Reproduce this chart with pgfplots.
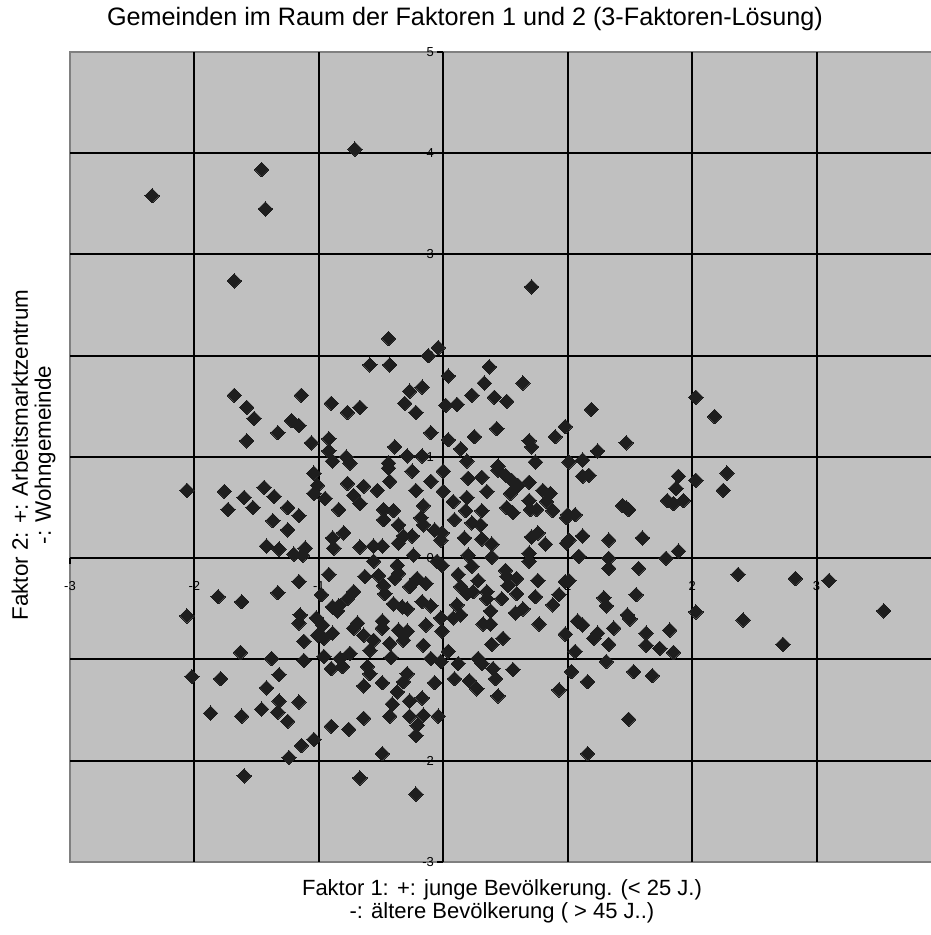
\documentclass[border=0pt]{standalone}
\usepackage{pgfplots}
\pgfplotsset{compat=1.18}
\usepackage{fontspec}
\setmainfont{Liberation Sans}
\definecolor{plotbg}{HTML}{C0C0C0}
\definecolor{framegray}{HTML}{808080}
\definecolor{dot}{HTML}{1E1E1E}

\begin{document}
\begin{tikzpicture}
% page = 930 x 935 px at 0.5pt per px
\path[use as bounding box] (0pt,0pt) rectangle (465pt,-467.5pt);
\node[font=\fontsize{12.6}{14}\selectfont] at (232.5pt,-9.5pt)
  {Gemeinden im Raum der Faktoren 1 und 2 (3-Faktoren-Lösung)};
\begin{axis}[
  at={(35pt,-26pt)}, anchor=north west,
  width=435.5pt, height=405pt, scale only axis,
  xmin=-3, xmax=4, ymin=-3, ymax=5,
  axis lines=middle,
  axis line style={-, black, line width=1pt},
  axis background/.style={fill=plotbg, draw=framegray, line width=1pt},
  grid=major,
  major grid style={black, line width=1pt},
  xtick={-2,-1,1,2,3},
  ytick={-2,-1,0,1,2,3,4},
  extra x ticks={-3},
  extra y ticks={-3,5},
  extra tick style={grid=none},
  hide obscured y ticks=false,
  tick style={black, line width=0.6pt},
  tick align=outside,
  major tick length=3pt,
  /pgf/number format/assume math mode=true,
  ticklabel style={font=\fontsize{6.5}{7}\selectfont, inner sep=0pt},
  xticklabel style={anchor=center, yshift=-11pt},
  yticklabel style={anchor=east, xshift=-1.5pt},
]
\addplot[only marks, mark=square*, mark size=2.55pt,
  mark options={rotate=45, fill=dot, draw=dot, line width=0pt}] coordinates {
(-2.34,3.58) (-1.46,3.84) (-1.43,3.45) (-0.71,4.04) (-1.68,2.74) (-0.44,2.17)
(-0.04,2.08) (-0.12,2.00) (-0.59,1.91) (-0.43,1.91) (-1.68,1.61) (-1.58,1.49)
(-1.52,1.38) (-1.14,1.61) (-1.58,1.16) (-1.33,1.24) (-1.22,1.36) (-1.16,1.31)
(-1.06,1.14) (-0.90,1.53) (-0.77,1.44) (-0.67,1.49) (-0.92,1.18) (-0.92,1.06)
(-0.89,0.96) (-0.78,1.00) (-0.75,0.94) (-0.44,0.94) (-0.39,1.10) (-0.27,1.65)
(-0.17,1.69) (-0.31,1.53) (-0.22,1.44) (-0.10,1.24) (-0.29,1.01) (-0.17,1.01)
(0.02,1.51) (0.04,1.80) (0.04,1.17)
(0.71,2.68) (0.37,1.89) (0.33,1.73) (0.64,1.73) (0.23,1.61) (0.41,1.59)
(0.51,1.55) (0.11,1.52) (1.19,1.47) (2.03,1.59) (2.18,1.40) (0.98,1.30)
(0.90,1.20) (0.43,1.28) (0.25,1.20) (0.14,1.08) (0.69,1.16) (0.71,1.10)
(1.47,1.14) (1.24,1.06) (0.19,0.96) (0.44,0.91) (0.74,0.95) (1.01,0.95)
(1.12,0.97)
(-2.06,0.67) (-1.76,0.66) (-1.73,0.48) (-1.60,0.60) (-1.53,0.50) (-1.44,0.70)
(-1.36,0.61) (-1.25,0.50) (-1.16,0.42) (-1.37,0.37) (-1.25,0.28) (-1.42,0.12)
(-1.32,0.09) (-1.20,0.04) (-1.13,0.03) (-1.11,0.10) (-1.04,0.84) (-1.01,0.72)
(-1.04,0.64) (-0.95,0.59) (-0.77,0.74) (-0.64,0.71) (-0.72,0.62) (-0.67,0.54)
(-0.53,0.67) (-0.44,0.89) (-0.43,0.76) (-0.25,0.86) (-0.22,0.67) (-0.10,0.76)
(0.00,0.86) (0.00,0.66) (-0.84,0.48) (-0.48,0.48) (-0.40,0.47) (-0.48,0.38)
(-0.36,0.33) (-0.16,0.52) (-0.18,0.40) (-0.16,0.33) (-0.07,0.28) (-0.01,0.25)
(-0.02,0.18) (-0.89,0.20) (-0.80,0.25) (-0.88,0.10) (-0.67,0.11) (-0.56,0.12)
(-0.49,0.12) (-0.36,0.15) (-0.32,0.22) (-0.25,0.22) (-0.24,0.03) (-0.56,-0.03)
(-0.37,-0.07) (-0.36,-0.15) (-0.05,-0.03) (-0.01,-0.07) (-0.92,-0.16) (-1.16,-0.23)
(-1.33,-0.34) (-1.81,-0.38) (-1.62,-0.43) (-2.06,-0.57) (-0.98,-0.36) (-0.84,-0.47)
(-0.77,-0.40) (-0.72,-0.33) (-0.89,-0.48) (-0.85,-0.52) (-0.63,-0.18) (-0.52,-0.17)
(-0.48,-0.27) (-0.47,-0.35) (-0.39,-0.20) (-0.27,-0.28) (-0.21,-0.20) (-0.14,-0.25)
(-0.40,-0.45) (-0.33,-0.48) (-0.29,-0.50) (-0.17,-0.43) (-0.10,-0.47) (-1.15,-0.56)
(-1.16,-0.64) (-1.02,-0.59) (-0.97,-0.66) (-0.89,-0.74) (-1.01,-0.76) (-1.12,-0.82)
(-0.96,-0.79) (-0.69,-0.64) (-0.72,-0.69) (-0.64,-0.76) (-0.56,-0.81) (-0.59,-0.91)
(-0.49,-0.62) (-0.49,-0.69) (-0.36,-0.71) (-0.29,-0.72) (-0.32,-0.81) (-0.43,-0.84)
(-0.14,-0.66) (-0.01,-0.72) (-0.16,-0.86) (-0.02,-0.59) (-1.63,-0.93) (-1.38,-0.99)
(-1.12,-1.01) (-0.96,-0.97) (-0.83,-0.99) (-0.75,-0.94) (-0.42,-0.98) (-0.10,-0.99)
(-0.02,-1.02) (-0.90,-1.09) (-0.81,-1.07) (-0.61,-1.07) (-0.59,-1.14) (-2.02,-1.17)
(-1.79,-1.19) (-1.32,-1.15) (-1.42,-1.28) (-0.64,-1.26) (-0.49,-1.23) (-0.29,-1.14)
(-0.32,-1.22) (-0.07,-1.23) (-0.37,-1.32) (-0.41,-1.44) (-1.32,-1.41) (-1.16,-1.42)
(-1.46,-1.49) (-1.33,-1.52) (-1.25,-1.61) (-1.87,-1.53) (-1.62,-1.56) (-0.27,-1.41)
(-0.17,-1.38) (-0.64,-1.58) (-0.43,-1.56) (-0.27,-1.56) (-0.16,-1.55) (-0.04,-1.56)
(-0.21,-1.65) (-0.22,-1.75) (-0.90,-1.66) (-0.76,-1.69) (-1.04,-1.79) (-1.14,-1.85)
(-1.24,-1.97) (-0.49,-1.93) (-1.60,-2.15) (-0.67,-2.17) (-0.22,-2.33)
(0.20,0.79) (0.31,0.80) (0.44,0.87) (0.50,0.82) (0.55,0.77) (0.60,0.72)
(0.69,0.75) (0.54,0.64) (0.35,0.66) (0.19,0.60) (0.08,0.56) (0.80,0.67)
(0.86,0.64) (0.83,0.56) (0.69,0.57) (0.70,0.48) (0.75,0.48) (0.88,0.47)
(0.51,0.50) (0.56,0.45) (0.18,0.47) (0.31,0.47) (0.09,0.38) (0.23,0.35)
(0.30,0.33) (1.00,0.43) (1.06,0.43) (0.99,0.40) (1.12,0.81) (1.17,0.82)
(1.44,0.52) (1.49,0.48) (1.47,0.50) (1.89,0.81) (1.87,0.69) (1.80,0.57)
(1.85,0.54) (1.93,0.57) (2.03,0.77) (2.28,0.84) (2.25,0.67) (0.17,0.20)
(0.31,0.19) (0.39,0.14) (0.82,0.14) (0.71,0.21) (0.76,0.25) (0.99,0.15)
(1.01,0.18) (1.12,0.22) (1.33,0.18) (1.60,0.20) (0.20,0.03) (0.39,0.01)
(0.69,0.05) (0.69,-0.03) (1.09,0.02) (1.33,0.00) (1.33,-0.10) (1.79,0.00)
(1.89,0.07) (1.57,-0.10) (2.37,-0.16) (2.03,-0.53) (2.41,-0.61) (0.23,-0.08)
(0.12,-0.16) (0.28,-0.22) (0.14,-0.28) (0.19,-0.35) (0.24,-0.33) (0.35,-0.33)
(0.35,-0.40) (0.50,-0.12) (0.51,-0.18) (0.59,-0.20) (0.52,-0.27) (0.59,-0.35)
(0.47,-0.40) (0.76,-0.22) (0.74,-0.38) (0.93,-0.36) (0.88,-0.46) (0.98,-0.23)
(1.01,-0.22) (0.11,-0.46) (0.08,-0.59) (0.14,-0.56) (0.38,-0.52) (0.32,-0.65)
(0.38,-0.65) (0.58,-0.54) (0.64,-0.50) (0.77,-0.65) (0.48,-0.79) (0.39,-0.85)
(0.98,-0.75) (1.08,-0.62) (1.12,-0.66) (1.29,-0.39) (1.31,-0.47) (1.55,-0.36)
(1.48,-0.56) (1.50,-0.60) (1.24,-0.74) (1.21,-0.79) (1.37,-0.69) (1.33,-0.85)
(1.63,-0.74) (1.63,-0.86) (1.82,-0.71) (1.74,-0.89) (1.85,-0.93) (1.06,-0.92)
(0.04,-0.92) (0.12,-1.04) (0.28,-0.99) (0.31,-1.04) (0.40,-1.09) (0.42,-1.19)
(0.56,-1.10) (0.09,-1.19) (0.21,-1.21) (0.27,-1.29) (0.44,-1.36) (0.93,-1.30)
(1.03,-1.12) (1.31,-1.02) (1.16,-1.22) (1.53,-1.12) (1.68,-1.16) (1.49,-1.59)
(1.16,-1.93)
(2.83,-0.20) (3.10,-0.22) (3.54,-0.52) (2.73,-0.85)
};
\end{axis}
\node[font=\fontsize{11}{11.5}\selectfont, align=center] at (251pt,-450.5pt)
  {Faktor 1: +: junge Bevölkerung. (< 25 J.)\\-: ältere Bevölkerung ( > 45 J..)};
\node[font=\fontsize{11.2}{11.5}\selectfont, align=center, rotate=90] at (16.75pt,-227.5pt)
  {Faktor 2: +: Arbeitsmarktzentrum\\-: Wohngemeinde};
\end{tikzpicture}
\end{document}
